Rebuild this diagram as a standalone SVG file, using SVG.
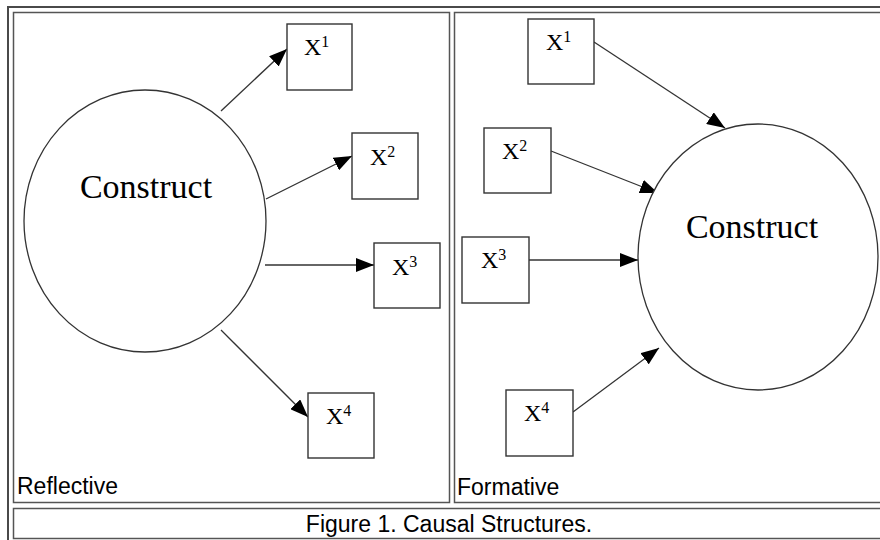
<svg xmlns="http://www.w3.org/2000/svg" width="880" height="540" viewBox="0 0 880 540">
  <defs>
    <marker id="arrow" viewBox="0 0 18 14" refX="18" refY="7" markerWidth="18" markerHeight="14" markerUnits="userSpaceOnUse" orient="auto">
      <path d="M0,0 L18,7 L0,14 z" fill="#000"/>
    </marker>
  </defs>
  <style>
    .table { fill: none; stroke: #4a4a4a; stroke-width: 2; }
    .cell { fill: none; stroke: #555; stroke-width: 1.5; }
    .box { fill: #fff; stroke: #333; stroke-width: 1.4; }
    .construct { fill: #fff; stroke: #333; stroke-width: 1.3; }
    .edge { stroke: #333; stroke-width: 1.3; fill: none; marker-end: url(#arrow); }
    .var { font-family: "Liberation Serif", "Times New Roman", serif; font-size: 24px; fill: #000; }
    .sup { font-size: 16px; }
    .big { font-family: "Liberation Serif", "Times New Roman", serif; font-size: 34px; fill: #000; text-anchor: middle; }
    .caption { font-family: "Liberation Sans", Arial, sans-serif; font-size: 23px; fill: #000; }
  </style>

  <rect width="880" height="540" fill="#fff"/>

  <!-- table frame and cells -->
  <g id="frame">
    <rect class="table" x="8" y="7" width="884" height="540"/>
    <rect class="cell" x="13.5" y="12.5" width="436" height="490"/>
    <rect class="cell" x="454.5" y="12.5" width="440" height="490"/>
    <rect class="cell" x="13.5" y="508.5" width="880" height="30"/>
  </g>

  <!-- connectors -->
  <g id="connectors">
    <line class="edge" x1="221" y1="111" x2="287" y2="49"/>
    <line class="edge" x1="266" y1="199" x2="352" y2="156"/>
    <line class="edge" x1="265" y1="265" x2="374" y2="265"/>
    <line class="edge" x1="221" y1="330" x2="308" y2="417"/>

    <line class="edge" x1="594" y1="42" x2="725" y2="128"/>
    <line class="edge" x1="551" y1="151" x2="658" y2="193"/>
    <line class="edge" x1="529" y1="260" x2="638" y2="260"/>
    <line class="edge" x1="573" y1="412" x2="659" y2="348"/>
  </g>

  <!-- reflective model -->
  <g id="construct-reflective">
    <ellipse class="construct" cx="145" cy="221" rx="121" ry="131"/>
    <text class="big" x="146" y="198">Construct</text>
  </g>
  <g id="r-x1">
    <rect class="box" x="287" y="24" width="65" height="66"/>
    <text class="var" x="304" y="55">X<tspan class="sup" dy="-8">1</tspan></text>
  </g>
  <g id="r-x2">
    <rect class="box" x="352" y="133" width="66" height="66"/>
    <text class="var" x="370" y="165">X<tspan class="sup" dy="-8">2</tspan></text>
  </g>
  <g id="r-x3">
    <rect class="box" x="374" y="243" width="66" height="65"/>
    <text class="var" x="392" y="275">X<tspan class="sup" dy="-8">3</tspan></text>
  </g>
  <g id="r-x4">
    <rect class="box" x="308" y="393" width="66" height="65"/>
    <text class="var" x="326" y="424">X<tspan class="sup" dy="-8">4</tspan></text>
  </g>

  <!-- formative model -->
  <g id="construct-formative">
    <ellipse class="construct" cx="758" cy="257" rx="120" ry="133"/>
    <text class="big" x="752" y="238">Construct</text>
  </g>
  <g id="f-x1">
    <rect class="box" x="528" y="19" width="66" height="65"/>
    <text class="var" x="546" y="50">X<tspan class="sup" dy="-8">1</tspan></text>
  </g>
  <g id="f-x2">
    <rect class="box" x="484" y="128" width="67" height="65"/>
    <text class="var" x="502" y="159">X<tspan class="sup" dy="-8">2</tspan></text>
  </g>
  <g id="f-x3">
    <rect class="box" x="462" y="237" width="67" height="66"/>
    <text class="var" x="481" y="268">X<tspan class="sup" dy="-8">3</tspan></text>
  </g>
  <g id="f-x4">
    <rect class="box" x="506" y="390" width="67" height="66"/>
    <text class="var" x="524" y="421">X<tspan class="sup" dy="-8">4</tspan></text>
  </g>

  <!-- captions -->
  <g id="labels">
    <text class="caption" x="17" y="494">Reflective</text>
    <text class="caption" x="457" y="495">Formative</text>
    <text class="caption" x="449" y="532" text-anchor="middle">Figure 1. Causal Structures.</text>
  </g>
</svg>
